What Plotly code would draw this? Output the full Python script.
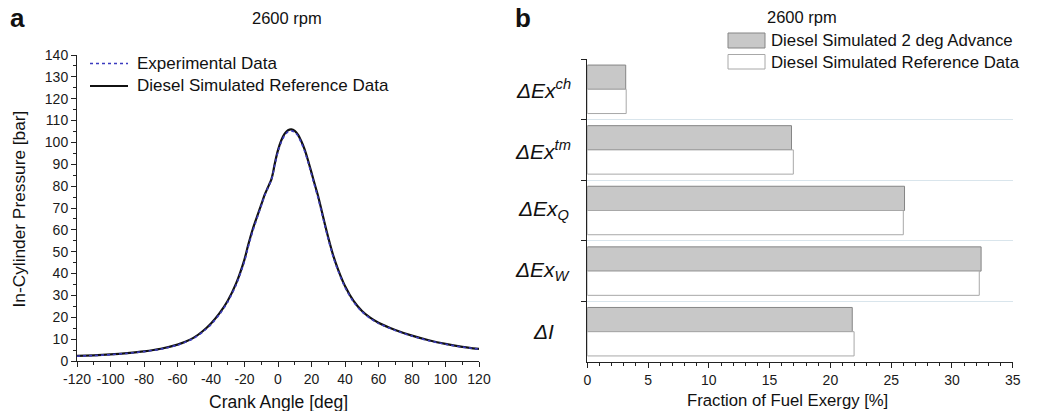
import plotly.graph_objects as go

# ---- panel a: in-cylinder pressure vs crank angle ----
crank_angle = [-120, -110, -100, -90, -80, -70, -60, -55, -50, -45, -40, -35, -30, -25, -20,
               -18, -15, -10, -8, -6, -4, -3, -2,
               0, 2, 4, 6, 8, 10, 12, 14, 16, 18, 20, 22, 24, 26, 28, 30,
               33, 36, 40, 45, 50, 55, 60,
               70, 80, 90, 100, 110, 120]
p_simulated = [2.3, 2.6, 3.0, 3.6, 4.4, 5.6, 7.5, 8.9, 10.8, 13.6, 17.2, 21.8, 27.6, 35.5, 46.5,
               52.5, 60.5, 71.5, 76.0, 79.5, 83.0, 86.0, 90.0,
               96.5, 101.0, 104.0, 105.6, 106.0, 105.3, 103.5, 100.4, 96.6, 91.6, 86.2, 80.6, 75.3, 69.0, 62.6, 56.5,
               48.2, 41.6, 34.3, 27.6, 23.0, 19.8, 17.5,
               14.2, 11.6, 9.5, 7.8, 6.5, 5.5]
p_experimental = [2.2, 2.5, 2.9, 3.5, 4.3, 5.4, 7.3, 8.7, 10.5, 13.2, 16.7, 21.2, 27.0, 34.8, 45.6,
                  51.6, 59.6, 71.0, 75.6, 79.2, 82.7, 85.6, 89.5,
                  95.8, 100.3, 103.3, 104.9, 105.3, 104.7, 102.9, 99.7, 95.8, 90.8, 85.4, 79.8, 74.4, 68.1, 61.8, 55.7,
                  47.5, 41.0, 33.7, 27.1, 22.6, 19.5, 17.2,
                  14.0, 11.4, 9.3, 7.7, 6.4, 5.4]
angle_ticks = [-120, -100, -80, -60, -40, -20, 0, 20, 40, 60, 80, 100, 120]
angle_tick_labels = ["-120", "-100", "-80", "-60", "-40", "-20", "0", "20", "40", "60", "80", "100", "120"]

# ---- panel b: exergy fractions ----
terms = ["dEx_ch", "dEx_tm", "dEx_Q", "dEx_W", "dI"]
term_labels = ["<i>ΔEx<sup>ch</sup></i>", "<i>ΔEx<sup>tm</sup></i>", "<i>ΔEx<sub>Q</sub></i>",
               "<i>ΔEx<sub>W</sub></i>", "<i>ΔI</i>"]
frac_advance = [3.16, 16.8, 26.1, 32.4, 21.8]
frac_reference = [3.2, 16.95, 26.0, 32.25, 21.95]

W, H = 1038, 411
FONT = "Liberation Sans, Arial, sans-serif"


def px_x(v):
    return v / W


def px_y(v):
    return 1 - v / H


fig = go.Figure()

fig.add_trace(go.Scatter(x=crank_angle, y=p_simulated, mode="lines",
                         line=dict(color="#111111", width=2.2, shape="spline", smoothing=0.6),
                         xaxis="x", yaxis="y", showlegend=False))
fig.add_trace(go.Scatter(x=crank_angle, y=p_experimental, mode="lines",
                         line=dict(color="#3b3bbf", width=1.6, dash="dot", shape="spline", smoothing=0.6),
                         xaxis="x", yaxis="y", showlegend=False))

fig.add_trace(go.Bar(y=terms, x=frac_advance, orientation="h", xaxis="x2", yaxis="y2",
                     marker=dict(color="#c8c8c8", line=dict(color="#858585", width=1)),
                     showlegend=False))
fig.add_trace(go.Bar(y=terms, x=frac_reference, orientation="h", xaxis="x2", yaxis="y2",
                     marker=dict(color="#ffffff", line=dict(color="#a8a8a8", width=1)),
                     showlegend=False))

tickfont = dict(family=FONT, size=14, color="#1a1a1a")

fig.update_layout(
    width=W, height=H,
    margin=dict(l=0, r=0, t=0, b=0, autoexpand=False),
    paper_bgcolor="white", plot_bgcolor="white",
    font=dict(family=FONT, color="#1a1a1a"),
    barmode="group", bargap=0.2, bargroupgap=0,
    xaxis=dict(domain=[px_x(77), px_x(479)], range=[-120, 120],
               tickmode="array", tickvals=angle_ticks, ticktext=angle_tick_labels,
               showgrid=False, zeroline=False, showline=True, linecolor="#222", linewidth=1,
               ticks="outside", ticklen=5, tickcolor="#222", tickfont=tickfont, automargin=False,
               minor=dict(dtick=10, ticks="outside", ticklen=3, tickcolor="#222"),
               anchor="y"),
    yaxis=dict(domain=[1 - 361 / H, 1 - 55 / H], range=[0, 140], dtick=10,
               showgrid=False, zeroline=False, showline=True, linecolor="#222", linewidth=1,
               ticks="outside", ticklen=5, tickcolor="#222", tickfont=tickfont, automargin=False,
               minor=dict(dtick=5, ticks="outside", ticklen=3, tickcolor="#222"),
               anchor="x"),
    xaxis2=dict(domain=[px_x(587.3), px_x(1012.7)], range=[0, 35], dtick=5,
                showgrid=False, zeroline=False, showline=True, linecolor="#222", linewidth=1,
                ticks="outside", ticklen=5, tickcolor="#222", tickfont=tickfont, automargin=False,
                minor=dict(dtick=1, ticks="outside", ticklen=3, tickcolor="#222"),
                anchor="y2"),
    yaxis2=dict(domain=[1 - 362 / H, 1 - 59 / H], categoryorder="array", categoryarray=terms,
                autorange="reversed", tickson="boundaries", showticklabels=False,
                showgrid=True, gridcolor="#d9e5ec", gridwidth=1, automargin=False,
                zeroline=False, showline=True, linecolor="#222", linewidth=1,
                ticks="outside", ticklen=5, tickcolor="#222",
                anchor="x2"),
)


def text_at(txt, x, y, size, xanchor="center", bold=False, angle=0):
    return dict(text=f"<b>{txt}</b>" if bold else txt, x=px_x(x), y=px_y(y),
                xref="paper", yref="paper", xanchor=xanchor, yanchor="middle",
                textangle=angle, showarrow=False,
                font=dict(size=size, family=FONT, color="#111"))


ann = [
    text_at("a", 18, 18, 26, bold=True),
    text_at("b", 523, 18, 26, bold=True),
    text_at("2600 rpm", 287, 18, 16.5),
    text_at("2600 rpm", 802, 17, 16.5),
    text_at("Crank Angle [deg]", 278, 401.5, 17.5),
    text_at("In-Cylinder Pressure [bar]", 18.5, 209, 17.3, angle=-90),
    text_at("Fraction of Fuel Exergy [%]", 787, 400.5, 16.7),
    # legend of panel a
    text_at("Experimental Data", 135, 63.5, 17, xanchor="left"),
    text_at("Diesel Simulated Reference Data", 135, 86, 17, xanchor="left"),
    # legend of panel b
    text_at("Diesel Simulated 2 deg Advance", 769, 40.5, 16.8, xanchor="left"),
    text_at("Diesel Simulated Reference Data", 769, 62, 16.8, xanchor="left"),
]
# category labels of panel b
for key, lab in zip(terms, term_labels):
    ann.append(dict(text=lab, x=px_x(543), y=key, xref="paper", yref="y2",
                    xanchor="center", yanchor="middle", showarrow=False,
                    font=dict(size=21, family=FONT, color="#111")))

shapes = [
    dict(type="line", xref="paper", yref="paper", x0=px_x(90), x1=px_x(128), y0=px_y(63.5), y1=px_y(63.5),
         line=dict(color="#3b3bbf", width=1.6, dash="dot")),
    dict(type="line", xref="paper", yref="paper", x0=px_x(90), x1=px_x(128), y0=px_y(86), y1=px_y(86),
         line=dict(color="#111111", width=2.2)),
    dict(type="rect", xref="paper", yref="paper", x0=px_x(728), x1=px_x(765), y0=px_y(33), y1=px_y(48),
         fillcolor="#c8c8c8", line=dict(color="#858585", width=1)),
    dict(type="rect", xref="paper", yref="paper", x0=px_x(728), x1=px_x(765), y0=px_y(54.5), y1=px_y(69),
         fillcolor="#ffffff", line=dict(color="#a8a8a8", width=1)),
]

fig.update_layout(annotations=ann, shapes=shapes)
fig.write_html("out.html")
